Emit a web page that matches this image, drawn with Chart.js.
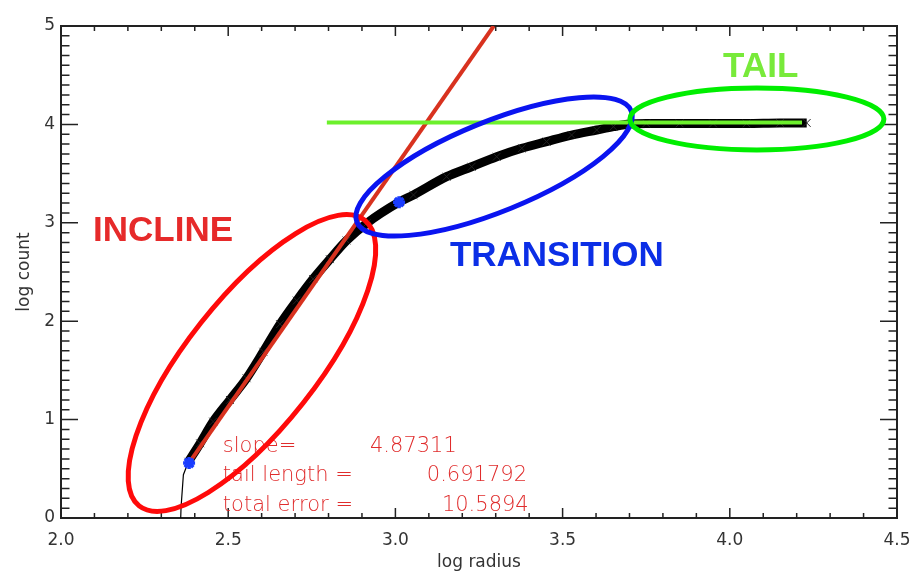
<!DOCTYPE html>
<html>
<head>
<meta charset="utf-8">
<script src="https://cdn.jsdelivr.net/npm/chart.js@4.4.1/dist/chart.umd.min.js"></script>
<style>
  html, body { margin: 0; padding: 0; background: #fff; }
  canvas { display: block; }
</style>
</head>
<body>
<canvas id="profile" width="914" height="584"></canvas>
<script>
// profile: log radius vs log count
const curveX = [2.381, 2.416, 2.455, 2.505, 2.555, 2.605, 2.655, 2.705, 2.754, 2.804,
                2.854, 2.914, 3.011, 3.054, 3.153, 3.228, 3.303, 3.378, 3.452, 3.527,
                3.602, 3.652, 3.700, 3.750, 3.850, 3.950, 4.050, 4.150, 4.230];
const curveY = [0.572, 0.759, 0.980, 1.200, 1.420, 1.690, 1.970, 2.210, 2.430, 2.630,
                2.820, 2.995, 3.210, 3.283, 3.469, 3.570, 3.672, 3.757, 3.825, 3.892,
                3.943, 3.977, 4.004, 4.010, 4.010, 4.010, 4.010, 4.015, 4.015];

// thin trace below the first break point
const footX = [2.358, 2.359, 2.366, 2.381];
const footY = [0.00, 0.11, 0.44, 0.572];

// incline fit and tail level
const fitX = [2.383, 3.294];
const fitY = [0.56, 5.0];
const tailX = [2.795, 4.216];
const tailY = [4.02, 4.02];

// break points
const breakX = [2.383, 3.011];
const breakY = [0.56, 3.21];

const xTicks = [2.0, 2.5, 3.0, 3.5, 4.0, 4.5];
const yTicks = [0, 1, 2, 3, 4, 5];
const minorStep = 0.1;

const statNames = ['slope=', 'tail length =', 'total error ='];
const statValues = ['4.87311', '0.691792', '10.5894'];

const toPoints = (xs, ys) => xs.map((v, i) => ({ x: v, y: ys[i] }));

// hand drawn annotations (anchored in data units, sizes in px)
const rings = [
  { x: 2.571, y: 1.575, rx: 182, ry: 65, rot: -51.7, color: '#ff0a0a' },
  { x: 3.295, y: 3.572, rx: 148, ry: 45, rot: -22.1, color: '#0a14f0' },
  { x: 4.081, y: 4.055, rx: 127, ry: 31, rot: 0, color: '#00ee00' }
];
const tags = [
  { text: 'INCLINE', x: 2.0957, y: 2.820, color: '#e62a2a' },
  { text: 'TRANSITION', x: 3.163, y: 2.566, color: '#0b2ee6' },
  { text: 'TAIL', x: 3.980, y: 4.482, color: '#78ea3a' }
];
const statNameX = 2.484;
const statValueX = [2.924, 3.094, 3.139];
const statBaseY = [0.671, 0.371, 0.071];

// IDL style frame: box with inward ticks on all four sides
const frameTicks = {
  id: 'frameTicks',
  beforeDatasetsDraw(chart) {
    const { ctx, chartArea: a, scales: { x, y } } = chart;
    ctx.save();
    ctx.strokeStyle = '#222';
    ctx.lineWidth = 1.5;
    ctx.beginPath();
    const nx = Math.round((x.max - x.min) / minorStep);
    for (let i = 0; i <= nx; i++) {
      const v = x.min + i * minorStep;
      const px = x.getPixelForValue(v);
      const len = (i % 5 === 0) ? 10 : 5;
      ctx.moveTo(px, a.bottom); ctx.lineTo(px, a.bottom - len);
      ctx.moveTo(px, a.top); ctx.lineTo(px, a.top + len);
    }
    const ny = Math.round((y.max - y.min) / minorStep);
    for (let i = 0; i <= ny; i++) {
      const v = y.min + i * minorStep;
      const py = y.getPixelForValue(v);
      const len = (i % 10 === 0) ? 17 : 8.5;
      ctx.moveTo(a.left, py); ctx.lineTo(a.left + len, py);
      ctx.moveTo(a.right, py); ctx.lineTo(a.right - len, py);
    }
    ctx.stroke();
    ctx.lineWidth = 2;
    ctx.strokeRect(a.left, a.top, a.right - a.left, a.bottom - a.top);
    ctx.restore();
  }
};

const notes = {
  id: 'notes',
  afterDatasetsDraw(chart) {
    const { ctx, scales: { x, y } } = chart;
    ctx.save();
    // fit results
    ctx.fillStyle = '#e02c2c';
    ctx.font = '200 21px "DejaVu Sans"';
    ctx.textBaseline = 'alphabetic';
    ctx.textAlign = 'left';
    statNames.forEach((s, i) => {
      ctx.fillText(s, x.getPixelForValue(statNameX), y.getPixelForValue(statBaseY[i]));
      ctx.fillText(statValues[i], x.getPixelForValue(statValueX[i]), y.getPixelForValue(statBaseY[i]));
    });
    // region names
    ctx.font = 'bold 35px "Liberation Sans", Arial, sans-serif';
    tags.forEach(t => {
      ctx.fillStyle = t.color;
      ctx.fillText(t.text, x.getPixelForValue(t.x), y.getPixelForValue(t.y));
    });
    // rings
    ctx.lineWidth = 5;
    rings.forEach(r => {
      ctx.strokeStyle = r.color;
      ctx.beginPath();
      ctx.ellipse(x.getPixelForValue(r.x), y.getPixelForValue(r.y), r.rx, r.ry,
                  r.rot * Math.PI / 180, 0, Math.PI * 2);
      ctx.stroke();
    });
    ctx.restore();
  }
};

const axisFont = { family: 'DejaVu Sans', size: 17, weight: 'normal' };

new Chart(document.getElementById('profile'), {
  type: 'scatter',
  data: {
    datasets: [
      {
        data: toPoints(breakX, breakY), order: 0,
        pointStyle: 'star', pointRadius: 6, borderWidth: 3.5,
        borderColor: '#1a3cff', backgroundColor: '#1a3cff', showLine: false
      },
      {
        data: toPoints(tailX, tailY), order: 1, showLine: true,
        borderColor: '#6cf02c', borderWidth: 4, pointRadius: 0
      },
      {
        data: toPoints(fitX, fitY), order: 2, showLine: true,
        borderColor: '#d8321f', borderWidth: 4, pointRadius: 0
      },
      {
        data: toPoints(footX, footY), order: 3, showLine: true,
        borderColor: '#000', borderWidth: 1.2, pointRadius: 0
      },
      {
        data: toPoints(curveX, curveY), order: 4, showLine: true,
        borderColor: '#000', borderWidth: 9, cubicInterpolationMode: 'monotone',
        pointStyle: 'crossRot', pointRadius: 5.5, pointBorderWidth: 1,
        pointBorderColor: '#222'
      }
    ]
  },
  options: {
    responsive: false,
    animation: false,
    devicePixelRatio: 1,
    layout: { padding: { top: 26, right: 17, left: 0, bottom: 0 } },
    plugins: { legend: { display: false }, tooltip: { enabled: false } },
    scales: {
      x: {
        type: 'linear', min: 2, max: 4.5,
        afterBuildTicks: s => { s.ticks = xTicks.map(v => ({ value: v })); },
        afterFit: s => { s.height = 66; s.paddingLeft = 0; s.paddingRight = 0; },
        grid: { display: false, drawTicks: false },
        border: { display: false },
        ticks: { color: '#333', font: axisFont, padding: 12, maxRotation: 0,
                 callback: v => Number(v).toFixed(1) },
        title: { display: true, text: 'log radius', color: '#333', font: axisFont,
                 padding: { top: 0, bottom: 11 } }
      },
      y: {
        type: 'linear', min: 0, max: 5,
        afterBuildTicks: s => { s.ticks = yTicks.map(v => ({ value: v })); },
        afterFit: s => { s.width = 61; s.paddingTop = 0; s.paddingBottom = 0; },
        grid: { display: false, drawTicks: false },
        border: { display: false },
        ticks: { color: '#333', font: axisFont, padding: 6,
                 callback: v => String(v) },
        title: { display: true, text: 'log count', color: '#333', font: axisFont,
                 padding: { top: 14, bottom: 0 } }
      }
    }
  },
  plugins: [frameTicks, notes]
});
</script>
</body>
</html>
